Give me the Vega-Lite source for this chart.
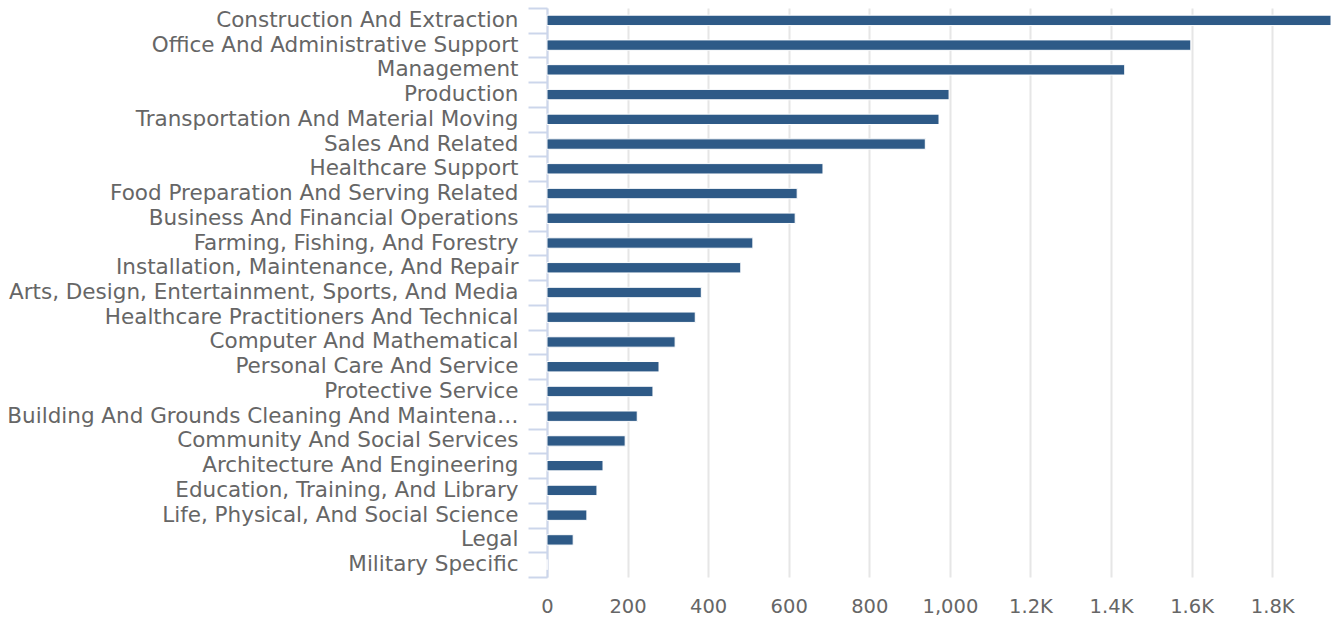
{
  "$schema": "https://vega.github.io/schema/vega-lite/v6.json",
  "autosize": "none",
  "width": 784,
  "height": 569,
  "padding": {"left": 547, "top": 8, "right": 13, "bottom": 45},
  "background": "#ffffff",
  "config": {
    "view": {"stroke": null},
    "font": "DejaVu Sans"
  },
  "data": {
    "values": [
      {"occupation": "Construction And Extraction", "count": 1946},
      {"occupation": "Office And Administrative Support", "count": 1598},
      {"occupation": "Management", "count": 1434},
      {"occupation": "Production", "count": 998},
      {"occupation": "Transportation And Material Moving", "count": 973},
      {"occupation": "Sales And Related", "count": 939},
      {"occupation": "Healthcare Support", "count": 685},
      {"occupation": "Food Preparation And Serving Related", "count": 621},
      {"occupation": "Business And Financial Operations", "count": 616},
      {"occupation": "Farming, Fishing, And Forestry", "count": 511},
      {"occupation": "Installation, Maintenance, And Repair", "count": 481},
      {"occupation": "Arts, Design, Entertainment, Sports, And Media", "count": 383},
      {"occupation": "Healthcare Practitioners And Technical", "count": 368},
      {"occupation": "Computer And Mathematical", "count": 318},
      {"occupation": "Personal Care And Service", "count": 278},
      {"occupation": "Protective Service", "count": 263},
      {"occupation": "Building And Grounds Cleaning And Maintenance", "count": 224},
      {"occupation": "Community And Social Services", "count": 194},
      {"occupation": "Architecture And Engineering", "count": 139},
      {"occupation": "Education, Training, And Library", "count": 124},
      {"occupation": "Life, Physical, And Social Science", "count": 99},
      {"occupation": "Legal", "count": 65},
      {"occupation": "Military Specific", "count": 0}
    ]
  },
  "mark": {"type": "bar", "color": "#2e5a87", "stroke": "#ffffff", "strokeWidth": 1, "height": {"band": 0.42}},
  "encoding": {
    "y": {
      "field": "occupation",
      "type": "nominal",
      "sort": null,
      "title": null,
      "scale": {"paddingInner": 0, "paddingOuter": 0},
      "axis": {
        "domainColor": "#ccd6eb",
        "domainWidth": 2,
        "tickColor": "#ccd6eb",
        "tickWidth": 2,
        "tickSize": 19,
        "tickBand": "extent",
        "labelPadding": 10,
        "labelLimit": 512,
        "labelFontSize": 21.5,
        "labelColor": "#666666",
        "grid": false
      }
    },
    "x": {
      "field": "count",
      "type": "quantitative",
      "title": null,
      "scale": {"domain": [0, 1946], "nice": false, "zero": true},
      "axis": {
        "values": [0, 200, 400, 600, 800, 1000, 1200, 1400, 1600, 1800],
        "labelExpr": "datum.value < 1000 ? format(datum.value, 'd') : (datum.value == 1000 ? '1,000' : format(datum.value / 1000, '.1f') + 'K')",
        "domain": false,
        "ticks": false,
        "grid": true,
        "gridColor": "#e6e6e6",
        "gridWidth": 2,
        "labelPadding": 20,
        "labelFontSize": 19.5,
        "labelColor": "#666666",
        "labelFlush": false
      }
    }
  }
}
